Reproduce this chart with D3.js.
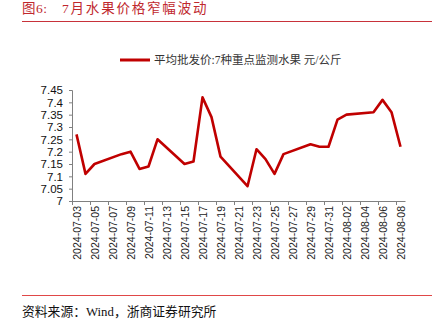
<!DOCTYPE html>
<html><head><meta charset="utf-8">
<script src="https://cdn.jsdelivr.net/npm/d3@7"></script>
<style>body{margin:0;background:#fff}svg{display:block}</style>
</head><body>
<svg id="c" width="442" height="322"></svg>
<script>
const dates = ["2024-07-03","2024-07-04","2024-07-05","2024-07-08","2024-07-09","2024-07-10","2024-07-11","2024-07-12",
  "2024-07-15","2024-07-16","2024-07-17","2024-07-18","2024-07-19","2024-07-22","2024-07-23","2024-07-24","2024-07-25",
  "2024-07-26","2024-07-29","2024-07-30","2024-07-31","2024-08-01","2024-08-02","2024-08-05","2024-08-06","2024-08-07","2024-08-08"];
const values = [7.27,7.11,7.15,7.19,7.20,7.13,7.14,7.25,
  7.15,7.16,7.42,7.34,7.18,7.06,7.21,7.17,7.11,
  7.19,7.23,7.22,7.22,7.33,7.35,7.36,7.41,7.36,7.22];
const tickLabels = ["2024-07-03","2024-07-05","2024-07-07","2024-07-09","2024-07-11","2024-07-13","2024-07-15",
  "2024-07-17","2024-07-19","2024-07-21","2024-07-23","2024-07-25","2024-07-27","2024-07-29","2024-07-31",
  "2024-08-02","2024-08-04","2024-08-06","2024-08-08"];
const yTicks = [7, 7.05, 7.1, 7.15, 7.2, 7.25, 7.3, 7.35, 7.4, 7.45];
const titlePrefix = "图6:";
const titleText = "7月水果价格窄幅波动";
const legendText = "平均批发价:7种重点监测水果 元/公斤";
const sourceText = "资料来源：Wind，浙商证券研究所";

const parse = d3.utcParse("%Y-%m-%d");
const HALF = 12 * 3600 * 1000;
const svg = d3.select("#c");
const red = "#c00000";
const axisFont = "'Liberation Sans', Arial, sans-serif";
const cjkFont = "'Liberation Serif', 'Noto Sans CJK SC', serif";

const x = d3.scaleUtc()
  .domain([new Date(+parse("2024-07-03") - HALF), new Date(+parse("2024-08-08") + HALF)])
  .range([72, 405]);
const y = d3.scaleLinear().domain([7, 7.45]).range([201, 90]);

// title
svg.append("text").attr("x", 22).attr("y", 12.5)
  .attr("font-family", cjkFont).attr("font-size", 13.5).attr("fill", "#c0282d")
  .attr("letter-spacing", 0.5).text(titlePrefix);
svg.append("text").attr("x", 62).attr("y", 12.5)
  .attr("font-family", cjkFont).attr("font-size", 13.5).attr("fill", "#c0282d")
  .attr("letter-spacing", 1.8).text(titleText);
svg.append("line").attr("x1", 22).attr("x2", 432).attr("y1", 21.5).attr("y2", 21.5)
  .attr("stroke", "#c8323a").attr("stroke-width", 1);

// legend
svg.append("line").attr("x1", 120).attr("x2", 150).attr("y1", 60).attr("y2", 60)
  .attr("stroke", red).attr("stroke-width", 3);
svg.append("text").attr("x", 154).attr("y", 60).attr("dy", "0.35em")
  .attr("font-family", cjkFont).attr("font-size", 11.5).attr("fill", "#333")
  .text(legendText);

// y axis
const gy = svg.append("g").attr("transform", "translate(72,0)")
  .call(d3.axisLeft(y).tickValues(yTicks).tickSize(3).tickPadding(6).tickFormat(d3.format("")));
gy.selectAll("text").attr("font-family", axisFont).attr("font-size", 11.5).attr("fill", "#111");
gy.selectAll("line,path").attr("stroke", "#808080");

// x axis tick marks (between days)
const gx = svg.append("g").attr("transform", "translate(0,201)")
  .call(d3.axisBottom(x).tickValues(tickLabels.map(d => new Date(+parse(d) - HALF))).tickSize(4).tickSizeOuter(0).tickFormat(""));
gx.selectAll("line,path").attr("stroke", "#808080");

// x axis labels
const gxl = svg.append("g").attr("transform", "translate(0,201)")
  .call(d3.axisBottom(x).tickValues(tickLabels.map(parse)).tickSize(0).tickFormat(d3.utcFormat("%Y-%m-%d")));
gxl.select(".domain").remove();
gxl.selectAll("text").attr("font-family", axisFont).attr("font-size", 10.5).attr("fill", "#222")
  .attr("text-anchor", "end").attr("transform", "rotate(-90)")
  .attr("x", -5).attr("y", 0).attr("dy", "0.35em");

// line
const line = d3.line().x((d, i) => x(parse(dates[i]))).y(d => y(d));
svg.append("path").datum(values).attr("d", line)
  .attr("fill", "none").attr("stroke", red).attr("stroke-width", 2.6).attr("stroke-linejoin", "round");

// footer
svg.append("line").attr("x1", 22).attr("x2", 432).attr("y1", 295.5).attr("y2", 295.5)
  .attr("stroke", "#e04848").attr("stroke-width", 1);
svg.append("text").attr("x", 22).attr("y", 316)
  .attr("font-family", cjkFont).attr("font-size", 12.8).attr("fill", "#111")
  .text(sourceText);
</script>
</body></html>
